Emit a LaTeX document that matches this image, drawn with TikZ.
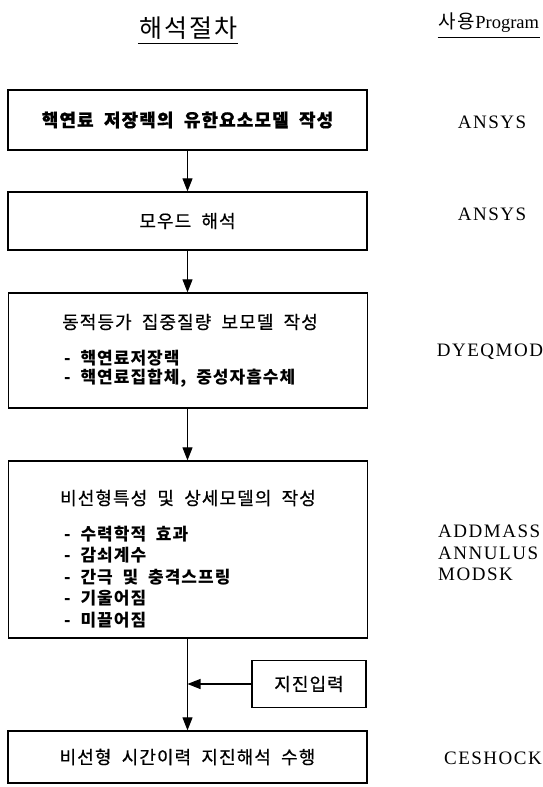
\documentclass[tikz,border=0pt]{standalone}
\usepackage{fontspec}
\setmainfont{Liberation Serif}
\newfontfamily\hangul[LetterSpace=6,WordSpace=2,FakeBold=0.6]{Noto Sans CJK KR}
\newfontfamily\hangulitem[LetterSpace=6,WordSpace=2]{Noto Sans CJK KR}
\newfontfamily\hangulhead[LetterSpace=8]{Noto Sans CJK KR}
\newfontfamily\progserif[LetterSpace=8]{Liberation Serif}
\usetikzlibrary{arrows.meta}
\tikzset{
  box/.style={draw, line width=1.3pt, minimum width=359pt, inner sep=0pt},
  ktext/.style={font=\hangul\fontsize{18}{21}\selectfont},
  kbold/.style={font=\hangul\bfseries\fontsize{18}{21}\selectfont},
  kitem/.style={font=\hangulitem\bfseries\fontsize{17}{20}\selectfont, anchor=west, inner sep=0pt},
  prog/.style={font=\progserif\fontsize{19}{22}\selectfont, inner sep=0pt},
  flow/.style={-{Triangle[width=10pt,length=13pt]}, line width=1.1pt}
}
\begin{document}
\begin{tikzpicture}[x=1pt,y=-1pt]
	\useasboundingbox (0,0) rectangle (542,787);
	%headings
		\node[font=\hangulhead\fontsize{25}{28}\selectfont, inner sep=1pt] (headproc) at (188,28) {해석절차};
		\draw[line width=1pt] ([yshift=-3pt]headproc.south west) -- ([yshift=-3pt]headproc.south east);
		\node[font=\fontsize{18.5}{22}\selectfont, inner sep=1pt] (headprog) at (489,23) {{\hangulhead\fontsize{19}{22}\selectfont 사용}Program};
		\draw[line width=1pt] ([yshift=-3pt]headprog.south west) -- ([yshift=-3pt]headprog.south east);
	%procedure boxes
		\node[box, kbold, minimum height=60pt] (model) at (187.5,120) {핵연료 저장랙의 유한요소모델 작성};
		\node[box, ktext, minimum height=58pt] (mode) at (187.5,221) {모우드 해석};
		\node[box, minimum height=115pt] (lumped) at (188,350.5) {};
		\node[ktext] (lumpedtitle) at (190,322) {동적등가 집중질량 보모델 작성};
		\node[kitem] (rack) at (64,358) {- 핵연료저장랙};
		\node[kitem] (assy) at (64,378) {- 핵연료집합체, 중성자흡수체};
		\node[box, minimum height=177pt] (detail) at (188,549.5) {};
		\node[ktext] (detailtitle) at (188,498) {비선형특성 및 상세모델의 작성};
		\node[kitem] (hydro) at (64,534) {- 수력학적 효과};
		\node[kitem] (damp) at (64,555.5) {- 감쇠계수};
		\node[kitem] (gap) at (64,577) {- 간극 및 충격스프링};
		\node[kitem] (tilt) at (64,598.5) {- 기울어짐};
		\node[kitem] (slide) at (64,620) {- 미끌어짐};
		\node[box, ktext, minimum width=114pt, minimum height=47pt] (quake) at (309,684) {지진입력};
		\node[box, ktext, minimum height=52pt] (result) at (187.5,757) {비선형 시간이력 지진해석 수행};
	%connectors
		\draw[flow] (model.south) -- (mode.north);
		\draw[flow] (mode.south) -- (lumped.north -| mode.south);
		\draw[flow] (lumped.south -| mode.south) -- (detail.north -| mode.south);
		\draw[flow] (detail.south -| mode.south) -- (result.north);
		\draw[flow] (quake.west) -- (quake.west -| result.north);
	%programs
		\node[prog] (ansysa) at (492,122) {ANSYS};
		\node[prog] (ansysb) at (492,214) {ANSYS};
		\node[prog] (dyeq) at (490,352) {DYEQMOD};
		\node[prog, anchor=west] (addmass) at (438,531) {ADDMASS};
		\node[prog, anchor=west] (annulus) at (438,553) {ANNULUS};
		\node[prog, anchor=west] (modsk) at (438,574) {MODSK};
		\node[prog] (ceshock) at (493,758) {CESHOCK};
\end{tikzpicture}
\end{document}
